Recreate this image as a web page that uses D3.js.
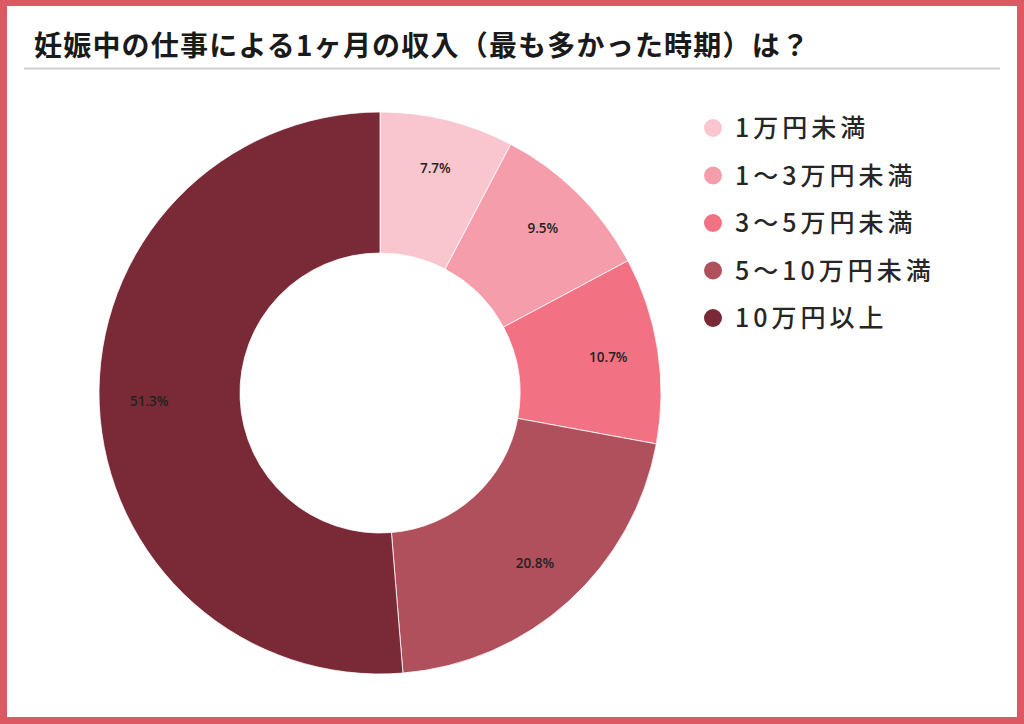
<!DOCTYPE html>
<html>
<head>
<meta charset="utf-8">
<script src="https://cdn.jsdelivr.net/npm/d3@7"></script>
<style>
  body { margin: 0; background: #fff; }
  svg { display: block; }
</style>
</head>
<body>
<svg id="chart"></svg>
<script>
var categories = ["1万円未満", "1〜3万円未満", "3〜5万円未満", "5〜10万円未満", "10万円以上"];
var values = [7.7, 9.5, 10.7, 20.8, 51.3];
var colors = ["#f9c6cf", "#f59daa", "#f27183", "#b0505d", "#792a36"];
var title = "妊娠中の仕事による1ヶ月の収入（最も多かった時期）は？";

function drawChart(width, height) {
  var svg = d3.select("#chart")
              .attr("width", width)
              .attr("height", height);

  // frame
  svg.append("rect")
     .attr("width", width)
     .attr("height", height)
     .attr("fill", "#dc5862");
  svg.append("rect")
     .attr("x", 7)
     .attr("y", 6)
     .attr("width", width - 14)
     .attr("height", height - 13)
     .attr("fill", "#fff");

  svg.append("text")
     .attr("x", 34)
     .attr("y", 56)
     .attr("font-family", "'Noto Sans CJK JP', sans-serif")
     .attr("font-weight", "bold")
     .attr("font-size", "28px")
     .attr("letter-spacing", "1.2px")
     .attr("fill", "#1a1a1a")
     .text(title);

  svg.append("line")
     .attr("x1", 24).attr("x2", 1000)
     .attr("y1", 68.5).attr("y2", 68.5)
     .attr("stroke", "#cfcfcf")
     .attr("stroke-width", 2);

  var color = d3.scaleOrdinal().domain(categories).range(colors);

  var cx = 380, cy = 393, outerR = 281, innerR = 140;
  var g = svg.append("g")
             .attr("transform", "translate(" + cx + "," + cy + ")");

  var arcs = d3.pie().sort(null).value(d => d.value);
  var data = categories.map((c, i) => ({ name: c, value: values[i] }));

  var path = d3.arc().outerRadius(outerR).innerRadius(innerR);
  var labelArc = d3.arc().outerRadius(231).innerRadius(231);

  g.selectAll(".arc")
   .data(arcs(data))
   .enter()
   .append("path")
   .classed("arc", true)
   .attr("fill", d => color(d.data.name))
   .attr("stroke", "#fff")
   .attr("stroke-width", 0.8)
   .attr("d", path);

  g.selectAll(".pct")
   .data(arcs(data))
   .enter()
   .append("text")
   .classed("pct", true)
   .attr("transform", d => "translate(" + labelArc.centroid(d) + ")")
   .attr("text-anchor", "middle")
   .attr("dy", "0.3em")
   .attr("font-family", "'Open Sans', sans-serif")
   .attr("font-weight", 600)
   .attr("font-size", "13.5px")
   .attr("fill", "#222")
   .text(d => d.data.value.toFixed(1) + "%");

  // legend
  var legend = svg.append("g")
                  .attr("transform", "translate(713,128)");
  var item = legend.selectAll(".item")
                   .data(categories)
                   .enter()
                   .append("g")
                   .classed("item", true)
                   .attr("transform", (d, i) => "translate(0," + i * 47.5 + ")");
  item.append("circle")
      .attr("r", 9)
      .attr("fill", d => color(d));
  item.append("text")
      .attr("x", 22)
      .attr("dy", "0.36em")
      .attr("font-family", "'Noto Sans CJK JP', sans-serif")
      .attr("font-weight", 500)
      .attr("font-size", "25px")
      .attr("letter-spacing", "4px")
      .attr("fill", "#262626")
      .text(d => d);
}

drawChart(1024, 724);
</script>
</body>
</html>
